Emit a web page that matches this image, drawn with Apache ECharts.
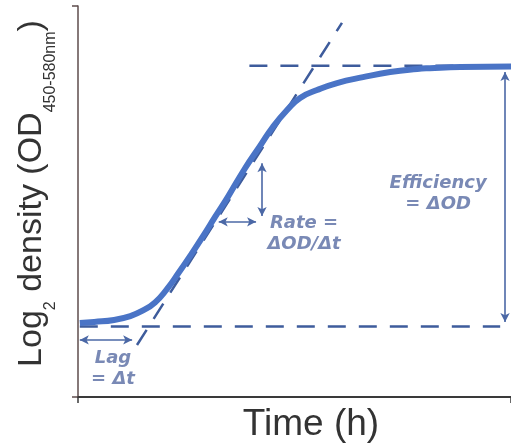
<!DOCTYPE html>
<html>
<head>
<meta charset="utf-8">
<script src="https://cdn.jsdelivr.net/npm/echarts@6/dist/echarts.min.js"></script>
<style>
  html, body { margin: 0; padding: 0; background: #fff; }
  #chart { width: 511px; height: 447px; }
</style>
</head>
<body>
<div id="chart"></div>
<script>
// growth curve (time in h, log2 OD)
const timeH = [0.1, 0.9, 2.0, 2.9, 3.55, 4.27, 4.93, 5.54, 6.32, 7.04, 7.59, 8.31, 9.26, 10.09, 10.81, 11.59, 12.31, 13.25, 14.36, 15.8, 17.3, 18.8, 19.5, 21.2, 24];
const log2Density = [1.89, 1.92, 1.97, 2.07, 2.2, 2.42, 2.76, 3.15, 3.68, 4.19, 4.6, 5.12, 5.85, 6.42, 6.91, 7.34, 7.65, 7.85, 8.03, 8.18, 8.31, 8.39, 8.41, 8.44, 8.45];

// guide lines: [start, end] as [time, log2 OD]
const lagLine = [[0.1, 1.8], [23.4, 1.8]];
const plateauLine = [[9.5, 8.47], [24, 8.47]];
const tangentLine = [[3.27, 1.33], [14.63, 9.57]];

// double-headed arrows
const lagArrow = [[0.1, 1.46], [3.0, 1.46]];
const rateArrowH = [[7.8, 4.48], [9.87, 4.48]];
const rateArrowV = [[10.2, 5.98], [10.2, 4.63]];
const effArrow = [[23.67, 8.31], [23.67, 1.92]];

// annotation texts and where they sit
const noteText = ['Lag\n= Δt', 'Rate =\nΔOD/Δt', 'Efficiency\n= ΔOD'];
const notePos = [[1.94, 0.72], [12.53, 4.17], [19.96, 5.2]];

const blue = '#4a74c6';
const dashBlue = '#3e5c9c';
const arrowBlue = '#4b68a6';
const noteColor = '#586ca3';

const chart = echarts.init(document.getElementById('chart'));

function dashed (name, pts) {
  return {
    name: name,
    type: 'line',
    data: pts,
    symbol: 'none',
    silent: true,
    z: 2,
    lineStyle: { color: dashBlue, width: 2.5, type: [18, 13] }
  };
}

chart.setOption({
  animation: false,
  grid: { left: 78, right: 0, top: 6, bottom: 50, outerBoundsMode: 'none' },
  xAxis: {
    type: 'value',
    min: 0,
    max: 24,
    interval: 24,
    name: 'Time (h)',
    nameLocation: 'middle',
    nameGap: 9,
    nameTextStyle: {
      fontFamily: 'Liberation Sans',
      fontSize: 37,
      lineHeight: 37,
      color: '#333',
      padding: [0, 0, 0, 33]
    },
    axisLine: { lineStyle: { color: '#3a3a3a', width: 2 } },
    axisTick: { show: true, length: 6, lineStyle: { color: '#3a3a3a', width: 1.5 } },
    axisLabel: { show: false },
    splitLine: { show: false }
  },
  yAxis: {
    type: 'value',
    min: 0,
    max: 10,
    interval: 10,
    name: '{m|Log}{s|2}{m| density (OD}{s|450-580nm}{m|)}',
    nameLocation: 'middle',
    nameGap: 25,
    nameTextStyle: {
      padding: [0, 0, 0, 16],
      rich: {
        m: { fontFamily: 'Liberation Sans', fontSize: 34, lineHeight: 38, color: '#333', verticalAlign: 'top' },
        s: { fontFamily: 'Liberation Sans', fontSize: 16, lineHeight: 16, color: '#333', verticalAlign: 'top', padding: [28, 0, 0, 0] }
      }
    },
    axisLine: { lineStyle: { color: '#5e4c4c', width: 1.5 } },
    axisTick: { show: true, length: 6, lineStyle: { color: '#5e4c4c', width: 1.5 } },
    axisLabel: { show: false },
    splitLine: { show: false }
  },
  series: [
    dashed('lag level', lagLine),
    dashed('plateau level', plateauLine),
    dashed('max slope', tangentLine),
    {
      name: 'growth',
      type: 'line',
      data: timeH.map((t, i) => [t, log2Density[i]]),
      symbol: 'none',
      smooth: 0.5,
      z: 3,
      lineStyle: { color: blue, width: 6 }
    },
    {
      name: 'arrows',
      type: 'line',
      data: [],
      z: 4,
      markLine: {
        silent: true,
        symbol: ['arrow', 'arrow'],
        symbolSize: [7, 9],
        label: { show: false },
        lineStyle: { color: arrowBlue, width: 1.6, type: 'solid' },
        emphasis: { disabled: true },
        data: [lagArrow, rateArrowH, rateArrowV, effArrow].map(a => [{ coord: a[0] }, { coord: a[1] }])
      }
    },
    {
      name: 'notes',
      type: 'scatter',
      data: notePos.map((p, i) => ({ value: p, name: noteText[i] })),
      symbolSize: 0,
      silent: true,
      z: 5,
      label: {
        show: true,
        position: 'inside',
        formatter: p => p.name,
        fontFamily: 'DejaVu Sans',
        fontStyle: 'italic',
        fontWeight: 'bold',
        fontSize: 18,
        lineHeight: 21,
        align: 'center',
        color: noteColor
      }
    }
  ]
});
</script>
</body>
</html>
